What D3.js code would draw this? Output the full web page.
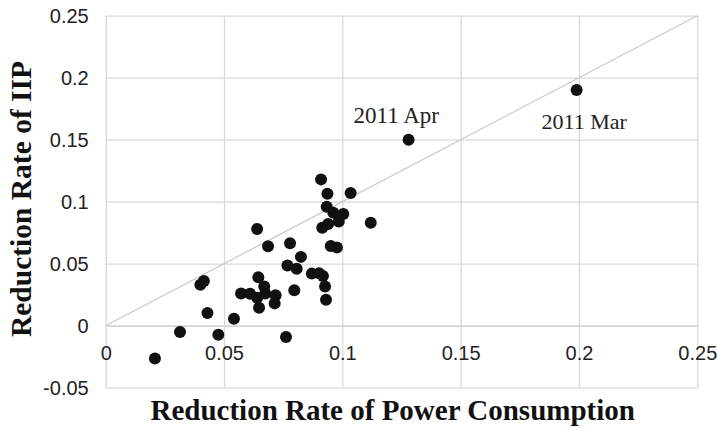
<!DOCTYPE html>
<html>
<head>
<meta charset="utf-8">
<script src="https://cdn.jsdelivr.net/npm/d3@7"></script>
<style>
  body { margin: 0; background: #fff; }
  svg { display: block; }
  .tick text { font-family: "Liberation Sans", Arial, sans-serif; font-size: 20px; fill: #222; }
</style>
</head>
<body>
<div id="vis"></div>
<script>
// Data: reduction rate of power consumption (x) vs reduction rate of IIP (y)
const POWER = [0.199, 0.128, 0.1035, 0.112, 0.091, 0.0937, 0.0934, 0.0962, 0.1004, 0.0985,
    0.094, 0.0915, 0.064, 0.0686, 0.0779, 0.0951, 0.0977, 0.0825, 0.0768, 0.0807,
    0.0871, 0.0902, 0.0918, 0.0927, 0.0931, 0.0797, 0.0645, 0.067, 0.0572, 0.061,
    0.064, 0.0674, 0.0718, 0.0714, 0.0648, 0.0762, 0.040, 0.0415, 0.043, 0.0542,
    0.0314, 0.0476, 0.0208];
const IIP = [0.190, 0.150, 0.107, 0.083, 0.118, 0.1065, 0.096, 0.091, 0.090, 0.084,
    0.082, 0.079, 0.078, 0.064, 0.0665, 0.0643, 0.063, 0.0555, 0.0485, 0.046,
    0.042, 0.0422, 0.040, 0.0317, 0.021, 0.0285, 0.039, 0.0317, 0.026, 0.0258,
    0.0225, 0.026, 0.0245, 0.018, 0.0145, -0.0091, 0.033, 0.036, 0.0102, 0.0056,
    -0.0051, -0.0073, -0.0264];
const LABELS = ["2011 Mar", "2011 Apr"];   // first two points
const X_TICKS = [0, 0.05, 0.1, 0.15, 0.2, 0.25];
const X_TICK_LABELS = ["0", "0.05", "0.1", "0.15", "0.2", "0.25"];
const Y_TICKS = [-0.05, 0, 0.05, 0.1, 0.15, 0.2, 0.25];
const Y_TICK_LABELS = ["-0.05", "0", "0.05", "0.1", "0.15", "0.2", "0.25"];

// Frame
const FRAME_WIDTH = 718;
const FRAME_HEIGHT = 428;
const PLOT = { left: 105.7, right: 697.3, top: 15.7, bottom: 387.7 };

const SERIF = '"Liberation Serif", "Times New Roman", serif';

const FRAME = d3.select("#vis")
    .append("svg")
    .attr("width", FRAME_WIDTH)
    .attr("height", FRAME_HEIGHT);

const X_SCALE = d3.scaleLinear().domain([0, 0.25]).range([PLOT.left, PLOT.right]);
const Y_SCALE = d3.scaleLinear().domain([-0.05, 0.25]).range([PLOT.bottom, PLOT.top]);

// vertical gridlines
FRAME.append("g")
    .attr("transform", "translate(0," + PLOT.bottom + ")")
    .call(d3.axisBottom(X_SCALE).tickValues(X_TICKS).tickSize(-(PLOT.bottom - PLOT.top)).tickFormat(""))
    .call(g => g.select(".domain").remove())
    .call(g => g.selectAll("line").attr("stroke", "#d9d9d9").attr("stroke-width", 1.3));

// horizontal gridlines + y labels
FRAME.append("g")
    .attr("transform", "translate(" + PLOT.left + ",0)")
    .call(d3.axisLeft(Y_SCALE).tickValues(Y_TICKS).tickSize(-(PLOT.right - PLOT.left))
        .tickPadding(17).tickFormat((d, i) => Y_TICK_LABELS[i]))
    .call(g => g.select(".domain").remove())
    .call(g => g.selectAll("line").attr("stroke", "#d9d9d9").attr("stroke-width", 1.3));

// x labels under the zero line
FRAME.append("g")
    .attr("transform", "translate(0," + Y_SCALE(0) + ")")
    .call(d3.axisBottom(X_SCALE).tickValues(X_TICKS).tickSize(0)
        .tickPadding(20).tickFormat((d, i) => X_TICK_LABELS[i]))
    .call(g => g.select(".domain").attr("stroke", "#cfcfcf").attr("stroke-width", 1.3));

// y = x reference line
FRAME.append("line")
    .attr("x1", X_SCALE(0)).attr("y1", Y_SCALE(0))
    .attr("x2", X_SCALE(0.25)).attr("y2", Y_SCALE(0.25))
    .attr("stroke", "#c8c8c8")
    .attr("stroke-width", 1.2);

// points
FRAME.selectAll(".point")
    .data(POWER)
    .enter()
    .append("circle")
    .attr("class", "point")
    .attr("cx", (d) => X_SCALE(d))
    .attr("cy", (d, i) => Y_SCALE(IIP[i]))
    .attr("r", 6)
    .attr("fill", "#111");

// annotations
const LABEL_OFFSET = [[-35, 39, 22], [-55, -17, 23]];
LABELS.forEach((t, i) => {
    FRAME.append("text")
        .attr("x", X_SCALE(POWER[i]) + LABEL_OFFSET[i][0])
        .attr("y", Y_SCALE(IIP[i]) + LABEL_OFFSET[i][1])
        .attr("font-family", SERIF)
        .attr("font-size", LABEL_OFFSET[i][2])
        .attr("fill", "#222")
        .text(t);
});

// axis titles
FRAME.append("text")
    .attr("x", 392.7)
    .attr("y", 420)
    .attr("text-anchor", "middle")
    .attr("font-family", SERIF)
    .attr("font-weight", "bold")
    .attr("font-size", 29)
    .attr("fill", "#111")
    .text("Reduction Rate of Power Consumption");

FRAME.append("text")
    .attr("transform", "translate(31,199) rotate(-90)")
    .attr("text-anchor", "middle")
    .attr("font-family", SERIF)
    .attr("font-weight", "bold")
    .attr("font-size", 29.5)
    .attr("fill", "#111")
    .text("Reduction Rate of IIP");
</script>
</body>
</html>
